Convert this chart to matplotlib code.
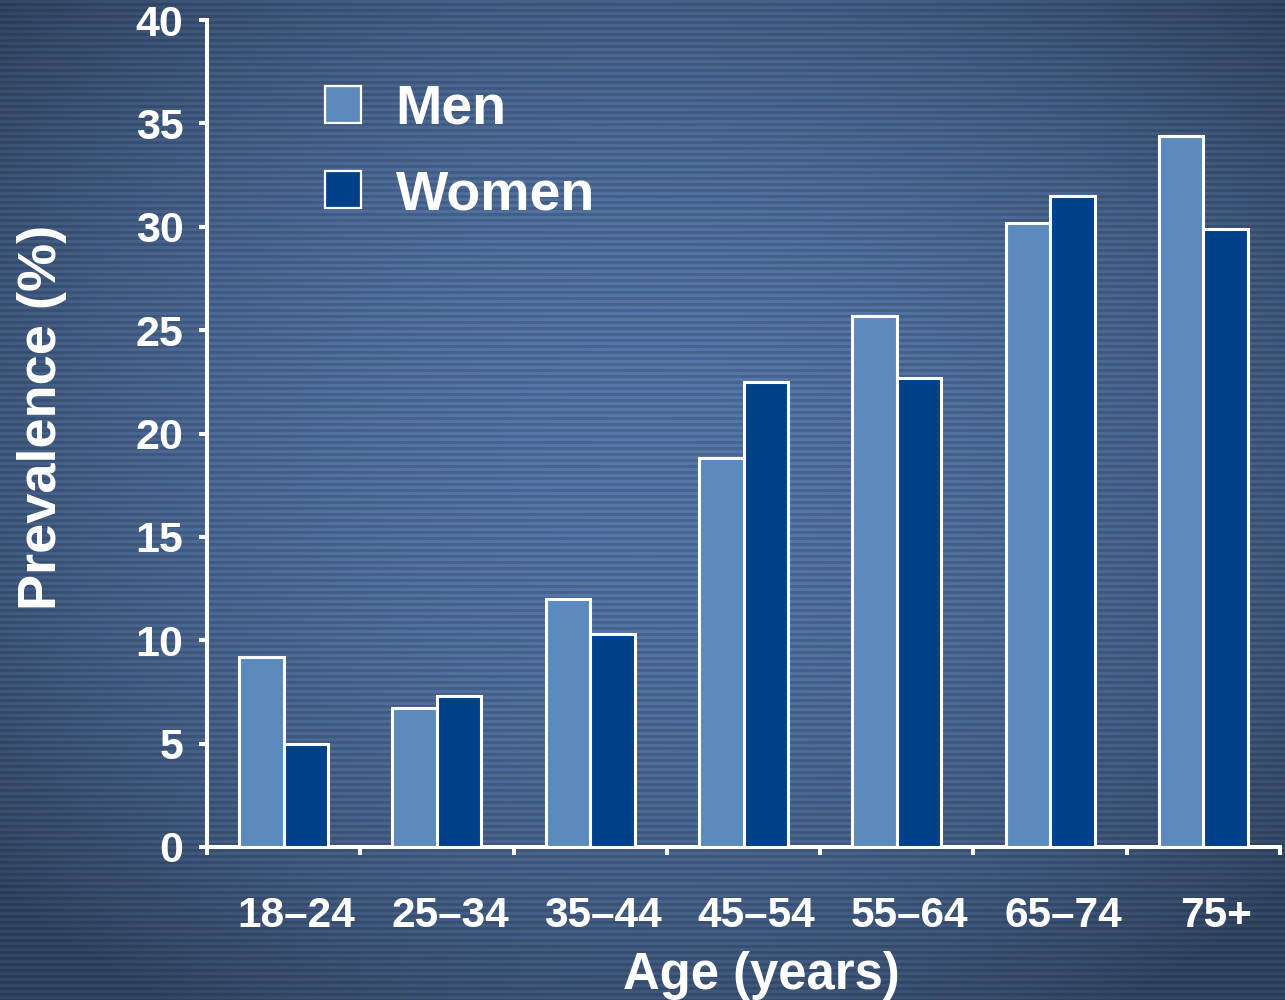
import numpy as np
import matplotlib
matplotlib.use("Agg")
import matplotlib.pyplot as plt
import matplotlib.transforms as mtransforms
from matplotlib.patches import Patch

plt.rcParams['font.family'] = ['Liberation Sans', 'DejaVu Sans']
plt.rcParams['font.weight'] = 'bold'

# data
age_groups = ['18\u201324', '25\u201334', '35\u201344', '45\u201354', '55\u201364', '65\u201374', '75+']
men = [9.2, 6.7, 12.0, 18.8, 25.7, 30.2, 34.4]
women = [5.0, 7.3, 10.3, 22.5, 22.7, 31.5, 29.9]

MEN_COLOR = '#5b8bbd'
WOMEN_COLOR = '#00418a'

W, H = 1285, 1000
fig = plt.figure(figsize=(W / 100, H / 100), dpi=100)

# striped blue background with a soft vignette
yy, xx = np.mgrid[0:H, 0:W]
r = np.sqrt(((xx - W * 0.5) / (W * 0.6)) ** 2 + ((yy - H * 0.45) / (H * 0.6)) ** 2)
shade = np.clip(1.0 - 0.33 * r ** 2, 0.6, 1.0)
stripe = np.where((yy % 6) < 3, 1.0, 0.85)
base = np.array([86, 120, 170]) / 255.0
img = base[None, None, :] * (shade * stripe)[:, :, None]
bg = fig.add_axes([0, 0, 1, 1])
bg.imshow(np.clip(img, 0, 1), aspect='auto', interpolation='nearest')
bg.axis('off')

ax = fig.add_axes([207 / W, 1 - 847 / H, (1280 - 207) / W, (847 - 20) / H])
ax.patch.set_alpha(0)

x = np.arange(len(age_groups)) + 0.5
bw = 0.29
ax.bar(x - bw / 2, men, bw, color=MEN_COLOR, edgecolor='white', linewidth=2.2, zorder=3)
ax.bar(x + bw / 2, women, bw, color=WOMEN_COLOR, edgecolor='white', linewidth=2.2, zorder=3)

ax.set_xlim(0, len(age_groups))
ax.set_ylim(0, 40)
ax.set_yticks(range(0, 41, 5))
ax.set_xticks(range(0, len(age_groups) + 1))
ax.set_xticklabels([])
ax.set_xticks(x, minor=True)
ax.set_xticklabels(age_groups, minor=True)

for s in ['top', 'right']:
    ax.spines[s].set_visible(False)
for s in ['left', 'bottom']:
    ax.spines[s].set_color('white')
    ax.spines[s].set_linewidth(2.9)

ax.tick_params(axis='y', colors='white', width=2.9, length=6, labelsize=31, pad=11)
ax.tick_params(axis='x', which='major', colors='white', width=2.9, length=6)
ax.tick_params(axis='x', which='minor', length=0, labelcolor='white', labelsize=30.5, pad=35)

offset = mtransforms.ScaledTranslation(0.13, 0, fig.dpi_scale_trans)
for lab in ax.get_xticklabels(minor=True):
    lab.set_transform(lab.get_transform() + offset)

fig.text(42 / W, 1 - 417 / H, 'Prevalence (%)', rotation=90, color='white',
         fontsize=39, fontweight='bold', ha='center', va='center')
fig.text(761 / W, 1 - 975 / H, 'Age (years)', color='white',
         fontsize=36.5, fontweight='bold', ha='center', va='center')

handles = [Patch(facecolor=MEN_COLOR, edgecolor='white', linewidth=1.6),
           Patch(facecolor=WOMEN_COLOR, edgecolor='white', linewidth=1.6)]
leg = fig.legend(handles, ['Men', 'Women'], loc='upper left',
                 bbox_to_anchor=(325 / W, 1 - 84 / H), frameon=False,
                 fontsize=40, labelcolor='white', handlelength=0.65, handleheight=0.65,
                 handletextpad=0.62, labelspacing=0.6, borderpad=0, borderaxespad=0)
for t in leg.get_texts():
    t.set_fontweight('bold')

fig.savefig('out.png', dpi=100)
